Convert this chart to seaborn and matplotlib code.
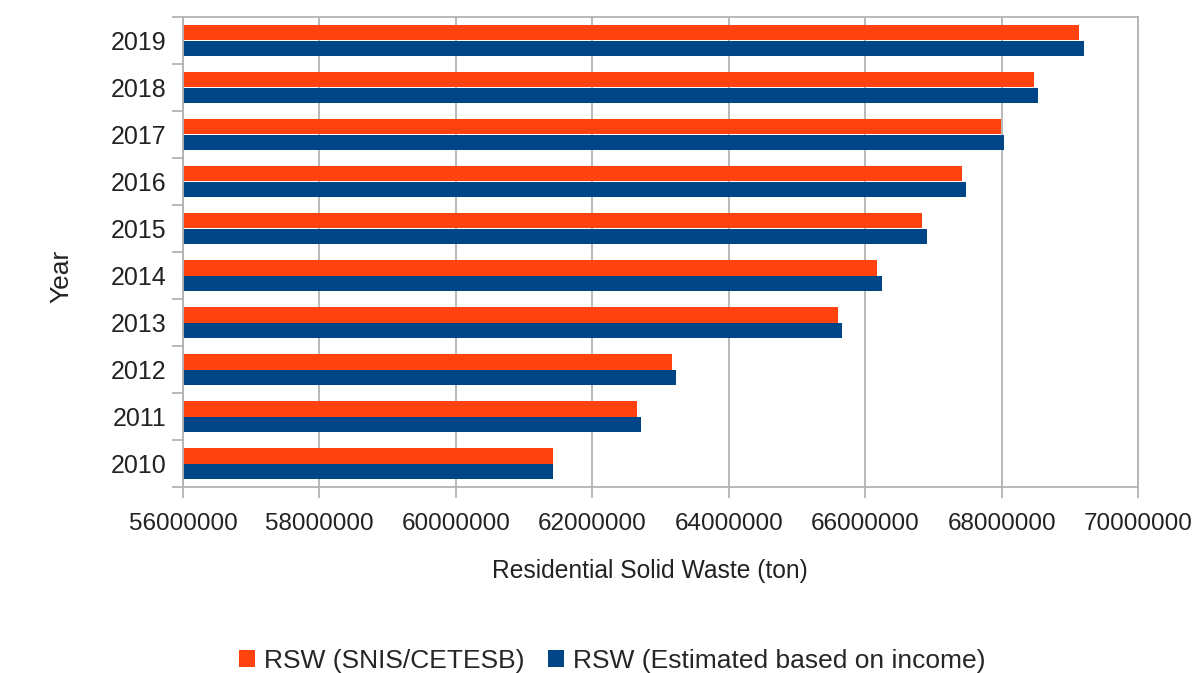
import matplotlib
matplotlib.use("Agg")
import matplotlib.pyplot as plt
from matplotlib.patches import Patch
from matplotlib.ticker import FixedLocator
import seaborn as sns
import pandas as pd
import numpy as np

years = [2019, 2018, 2017, 2016, 2015, 2014, 2013, 2012, 2011, 2010]
rsw_snis = [69140000, 68480000, 67990000, 67420000, 66840000, 66180000,
            65600000, 63170000, 62650000, 61420000]
rsw_income = [69210000, 68540000, 68040000, 67480000, 66910000, 66250000,
              65660000, 63230000, 62710000, 61420000]
series_names = ["RSW (SNIS/CETESB)", "RSW (Estimated based on income)"]
series_colors = ["#FF420E", "#004586"]
x_ticks = [56000000, 58000000, 60000000, 62000000, 64000000, 66000000,
           68000000, 70000000]

df = pd.DataFrame({
    "Year": [str(y) for y in years] * 2,
    "Value": rsw_snis + rsw_income,
    "Series": [series_names[0]] * len(years) + [series_names[1]] * len(years),
})

sns.set_theme(style="white")
plt.rcParams["font.family"] = ["Liberation Sans", "DejaVu Sans"]

fig = plt.figure(figsize=(11.96, 6.73), dpi=100)
ax = fig.add_axes([183 / 1196, 1 - 487 / 673, (1138 - 183) / 1196, (487 - 17) / 673])

sns.barplot(data=df, y="Year", x="Value", hue="Series", orient="h",
            order=[str(y) for y in years], hue_order=series_names,
            palette=series_colors, width=0.68, saturation=1,
            legend=False, ax=ax, edgecolor="none")

ax.set_xlim(x_ticks[0], x_ticks[-1])
ax.set_xticks(x_ticks)
ax.set_xticklabels([str(t) for t in x_ticks], color="#222222")
ax.xaxis.grid(True, color="#b3b3b3", linewidth=1.3)
ax.set_axisbelow(True)

# category labels at centers, tick marks at category boundaries
ax.tick_params(axis="y", which="major", length=0, labelsize=18,
               labelcolor="#222222", pad=12)
ax.yaxis.set_minor_locator(FixedLocator(np.arange(-0.5, len(years), 1.0)))
ax.tick_params(axis="y", which="minor", length=8, width=1.3,
               color="#b3b3b3", left=True)
ax.tick_params(axis="x", which="major", length=8, width=1.3,
               color="#b3b3b3", bottom=True, labelsize=17.5, pad=11)

for s in ax.spines.values():
    s.set_color("#b3b3b3")
    s.set_linewidth(1.3)

ax.set_xlabel("Residential Solid Waste (ton)", fontsize=17.7, color="#222222",
              va="top")
ax.xaxis.set_label_coords(0.489, -0.153)
ax.set_ylabel("Year", fontsize=19, color="#222222")
ax.yaxis.set_label_coords(-0.115, 0.449)

handles = [Patch(facecolor=c, edgecolor="none") for c in series_colors]
fig.legend(handles, series_names, loc="center", bbox_to_anchor=(0.512, 1 - 661 / 673),
           ncol=2, frameon=False, fontsize=19, handlelength=0.6,
           handleheight=0.6, handletextpad=0.35, columnspacing=0.9)

fig.savefig("out.png", dpi=100, facecolor="white")
